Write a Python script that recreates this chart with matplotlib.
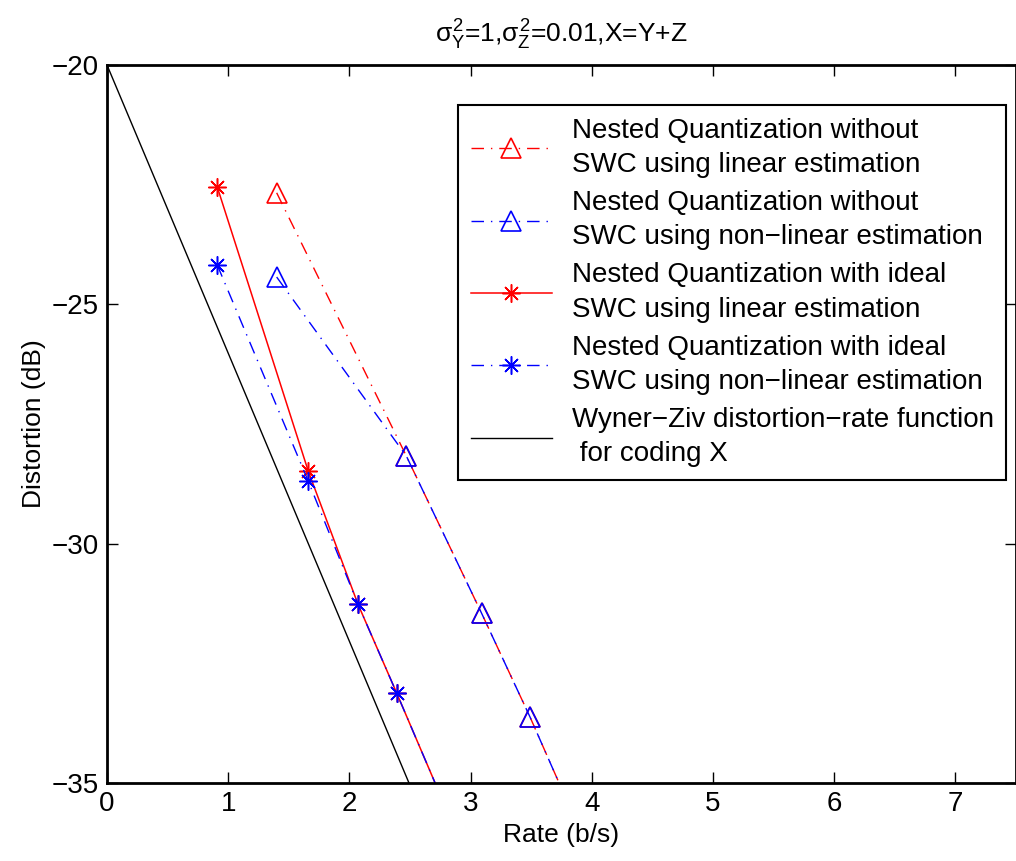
import matplotlib
matplotlib.use('Agg')
from matplotlib import pyplot as plt

plt.rcParams['font.family'] = ['Liberation Sans', 'DejaVu Sans']
plt.rcParams['mathtext.fontset'] = 'custom'
plt.rcParams['mathtext.rm'] = 'Liberation Sans'
plt.rcParams['mathtext.it'] = 'Liberation Sans'

# without SWC (triangles)
rate_tri = [1.40, 2.47, 3.09, 3.49, 4.00]
dist_tri_lin = [-22.67, -28.17, -31.45, -33.62, -36.55]
dist_tri_nonlin = [-24.43, -28.17, -31.45, -33.62, -36.55]

# with ideal SWC (stars)
rate_star = [0.91, 1.66, 2.07, 2.39, 2.80]
dist_star_lin = [-22.55, -28.48, -31.26, -33.12, -35.55]
dist_star_nonlin = [-24.18, -28.69, -31.26, -33.12, -35.55]

# Wyner-Ziv bound
rate_wz = [0, 1, 2, 3]
dist_wz = [-20.0, -26.02, -32.04, -38.06]

labels = [
    'Nested Quantization without\nSWC using linear estimation',
    'Nested Quantization without\nSWC using non\u2212linear estimation',
    'Nested Quantization with ideal\nSWC using linear estimation',
    'Nested Quantization with ideal\nSWC using non\u2212linear estimation',
    'Wyner\u2212Ziv distortion\u2212rate function\n for coding X',
]

fig = plt.figure(figsize=(10.16, 8.61), dpi=100)
ax = fig.add_axes([107 / 1016, 1 - 783 / 861, 909 / 1016, 718 / 861])

star = (8, 2, 0)
dashdot = (9, 5, 1, 5)
ax.plot(rate_tri, dist_tri_lin, color='red', marker='^', ms=15, dashes=dashdot,
        mfc='none', mew=1.2, lw=1, label=labels[0])
ax.plot(rate_tri, dist_tri_nonlin, color='blue', marker='^', ms=15, dashes=dashdot,
        mfc='none', mew=1.2, lw=1, label=labels[1])
ax.plot(rate_star, dist_star_lin, '-', color='red', marker=star, ms=13,
        mew=1.1, lw=1.1, label=labels[2])
ax.plot(rate_star, dist_star_nonlin, color='blue', marker=star, ms=13, dashes=dashdot,
        mew=1.1, lw=1, label=labels[3])
ax.plot(rate_wz, dist_wz, '-', color='black', lw=1, label=labels[4])

ax.set_xlim(0, 7.5)
ax.set_ylim(-35, -20)
ax.set_xticks(range(0, 8))
ax.set_yticks([-35, -30, -25, -20])
ax.tick_params(direction='in', top=True, right=True, labelsize=20,
               length=8, width=1, pad=6)
for s in ax.spines.values():
    s.set_linewidth(2)

ax.set_xlabel('Rate (b/s)', fontsize=19, labelpad=4)
ax.set_ylabel('Distortion (dB)', fontsize=19, labelpad=4)
ax.set_title(r'$\sigma_Y^2$=1,$\sigma_Z^2$=0.01,X=Y+Z', fontsize=19, pad=16)

leg = ax.legend(loc='upper right', bbox_to_anchor=((1006 - 107) / 909, 0.944),
                borderaxespad=0, fontsize=20, handlelength=2.9,
                fancybox=False, framealpha=1, edgecolor='black',
                labelspacing=0.43, handletextpad=0.72, borderpad=0.45)
leg.get_frame().set_linewidth(1.5)
for t in leg.get_texts():
    t.set_linespacing(1.42)

fig.savefig('out.png', dpi=100)
